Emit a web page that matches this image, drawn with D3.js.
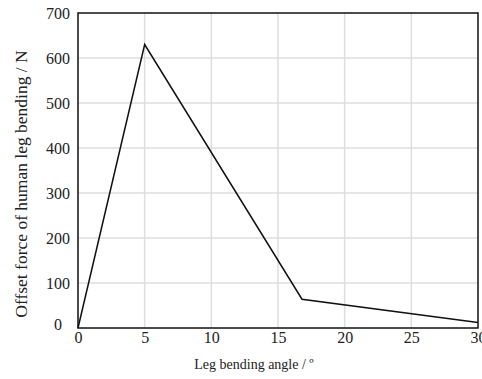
<!DOCTYPE html>
<html>
<head>
<meta charset="utf-8">
<script src="https://cdn.jsdelivr.net/npm/d3@7"></script>
<style>
  body { margin: 0; background: #fff; }
  svg { display: block; }
  svg text { font-family: "Liberation Serif", "Times New Roman", serif !important; fill: #222; }
</style>
</head>
<body>
<svg id="chart"></svg>
<script>
const angles = [0, 5, 16.8, 30];
const forces = [0, 630, 64, 12];
const xTicks = [0, 5, 10, 15, 20, 25, 30];
const yTicks = [0, 100, 200, 300, 400, 500, 600, 700];
const xTitle = "Leg bending angle / º";
const yTitle = "Offset force of human leg bending / N";

const dimensions = {
  width: 482,
  height: 379,
  margin: { top: 13, right: 4, bottom: 51, left: 78 }
};

const svg = d3
  .select("#chart")
  .attr("width", dimensions.width)
  .attr("height", dimensions.height);

const plotW = dimensions.width - dimensions.margin.left - dimensions.margin.right;
const plotH = dimensions.height - dimensions.margin.top - dimensions.margin.bottom;

const xScale = d3.scaleLinear().domain([0, 30]).range([0, plotW]);
const yScale = d3.scaleLinear().domain([0, 700]).range([plotH, 0]);

const g = svg
  .append("g")
  .attr("transform", `translate(${dimensions.margin.left},${dimensions.margin.top})`);

// grid
g.append("g")
  .selectAll("line")
  .data(xTicks.slice(1, -1))
  .join("line")
  .attr("x1", d => xScale(d))
  .attr("x2", d => xScale(d))
  .attr("y1", 0)
  .attr("y2", plotH)
  .attr("stroke", "#dedede")
  .attr("stroke-width", 1.5);

g.append("g")
  .selectAll("line")
  .data(yTicks.slice(1, -1))
  .join("line")
  .attr("x1", 0)
  .attr("x2", plotW)
  .attr("y1", d => yScale(d))
  .attr("y2", d => yScale(d))
  .attr("stroke", "#dedede")
  .attr("stroke-width", 1.5);

// axes (labels only)
const xAxis = d3.axisBottom(xScale).tickValues(xTicks).tickSize(0).tickPadding(4);
g.append("g")
  .attr("transform", `translate(0,${plotH})`)
  .attr("font-family", null)
  .call(xAxis)
  .call(s => s.select(".domain").remove())
  .selectAll("text")
  .style("font-size", "16px")
  .attr("fill", "#222");

const yAxis = d3.axisLeft(yScale).tickValues(yTicks).tickSize(0).tickPadding(8);
g.append("g")
  .call(yAxis)
  .call(s => s.select(".domain").remove())
  .selectAll("text")
  .style("font-size", "16px")
  .attr("fill", "#222")
  .attr("dx", d => (d === 0 ? -8 : 0))
  .attr("dy", d => (d === 0 ? "0.1em" : "0.32em"));

// frame
g.append("rect")
  .attr("width", plotW)
  .attr("height", plotH)
  .attr("fill", "none")
  .attr("stroke", "#111")
  .attr("stroke-width", 1.5);

// line
const data = angles.map((a, i) => ({ angle: a, force: forces[i] }));
g.append("path")
  .datum(data)
  .attr(
    "d",
    d3
      .line()
      .x(d => xScale(d.angle))
      .y(d => yScale(d.force))
  )
  .attr("fill", "none")
  .attr("stroke", "#111")
  .attr("stroke-width", 1.5)
  .attr("stroke-linejoin", "miter");

// titles
svg
  .append("text")
  .attr("x", 254)
  .attr("y", 369)
  .attr("text-anchor", "middle")
  .style("font-size", "14px")
  .text(xTitle);

svg
  .append("text")
  .attr("text-anchor", "middle")
  .attr("transform", "translate(27,184) rotate(-90)")
  .style("font-size", "17.5px")
  .text(yTitle);
</script>
</body>
</html>
